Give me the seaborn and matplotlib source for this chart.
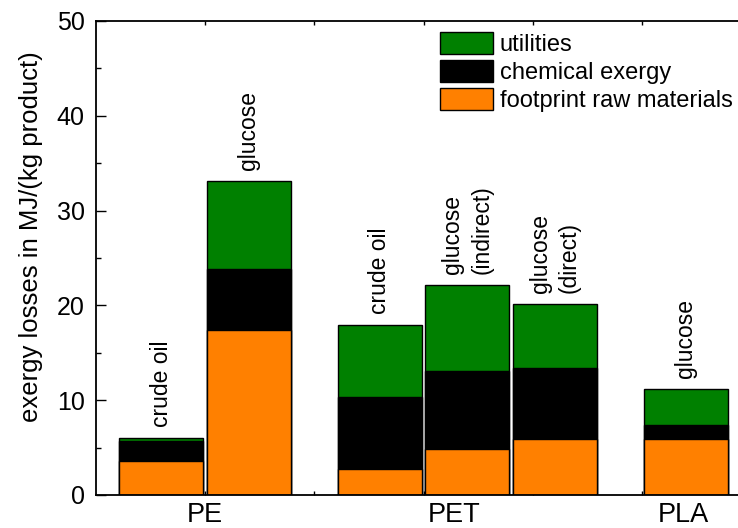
import matplotlib
matplotlib.use("Agg")
import matplotlib.pyplot as plt
import matplotlib.transforms as mtransforms
from matplotlib.patches import Patch
from matplotlib.ticker import MultipleLocator
import seaborn as sns
import numpy as np
import pandas as pd

sns.set_theme(style="ticks")
plt.rcParams["font.family"] = ["Liberation Sans", "DejaVu Sans"]
plt.rcParams.update({"text.color": "black", "axes.labelcolor": "black",
                     "xtick.color": "black", "ytick.color": "black"})

# data (MJ per kg product)
bar_labels = ["crude oil", "glucose", "crude oil", "glucose\n(indirect)", "glucose\n(direct)", "glucose"]
footprint = [3.55, 17.45, 2.75, 4.9, 5.95, 5.95]
chemical = [2.1, 6.35, 7.6, 8.2, 7.45, 1.4]
utilities = [0.4, 9.3, 7.6, 9.0, 6.7, 3.85]
groups = ["PE", "PET", "PLA"]

# layout
bar_pos = [0.6, 1.4, 2.6, 3.4, 4.2, 5.4]
group_pos = [1.0, 3.28, 5.38]

df = pd.DataFrame({"pos": bar_pos, "label": bar_labels,
                   "footprint": footprint, "chemical": chemical, "utilities": utilities})
df["lvl1"] = df["footprint"]
df["lvl2"] = df["footprint"] + df["chemical"]
df["lvl3"] = df["lvl2"] + df["utilities"]

c_util, c_chem, c_foot = "#008000", "#000000", "#ff8000"

fig = plt.figure(figsize=(7.38, 5.28), dpi=100)
ax = fig.add_axes([95.7 / 738, 33 / 528, 6 * 109.3 / 738, 474 / 528])

# stacked bars drawn as overlapping cumulative totals
w = 0.77 / 0.8
for col, c in [("lvl3", c_util), ("lvl2", c_chem), ("lvl1", c_foot)]:
    sns.barplot(data=df, x="pos", y=col, native_scale=True, orient="x", width=w,
                color=c, saturation=1, edgecolor="black", linewidth=1, errorbar=None, ax=ax)

for _, r in df.iterrows():
    ax.annotate(r["label"], xy=(r["pos"], r["lvl3"]), xytext=(0, 8), textcoords="offset points",
                rotation=90, ha="center", va="bottom", multialignment="left",
                linespacing=1.35, fontsize=16.5)

ax.set_xlim(0, 6)
ax.set_ylim(0, 50)
ax.yaxis.set_major_locator(MultipleLocator(10))
ax.yaxis.set_minor_locator(MultipleLocator(5))
ax.set_xticks([1, 2, 3, 4, 5], [""] * 5)
ax.set_xlabel("")

trans = mtransforms.blended_transform_factory(ax.transData, ax.transAxes)
for g, p in zip(groups, group_pos):
    ax.text(p, -7 / 474, g, transform=trans, ha="center", va="top", fontsize=19.5)

ax.set_ylabel("exergy losses in MJ/(kg product)", fontsize=18.5)
ax.yaxis.set_label_coords(-0.08, 0.546)

for s in ["top", "bottom", "left", "right"]:
    ax.spines[s].set_visible(True)
    ax.spines[s].set_linewidth(1.3)
    ax.spines[s].set_color("black")

ax.tick_params(axis="y", which="major", direction="in", length=7, width=1, labelsize=18, pad=8)
ax.tick_params(axis="y", which="minor", direction="in", length=3.5, width=1)
ax.tick_params(axis="x", which="major", direction="in", length=3, width=1, top=True, bottom=True)

handles = [Patch(facecolor=c_util, edgecolor="black", label="utilities"),
           Patch(facecolor=c_chem, edgecolor="black", label="chemical exergy"),
           Patch(facecolor=c_foot, edgecolor="black", label="footprint raw materials")]
fig.legend(handles=handles, loc="upper left", bbox_to_anchor=(440 / 738, 1 - 32 / 528),
           frameon=False, fontsize=17, borderpad=0, borderaxespad=0,
           handlelength=2.23, handleheight=1.06, handletextpad=0.3, labelspacing=0.16)

fig.savefig("out.png", dpi=100)
